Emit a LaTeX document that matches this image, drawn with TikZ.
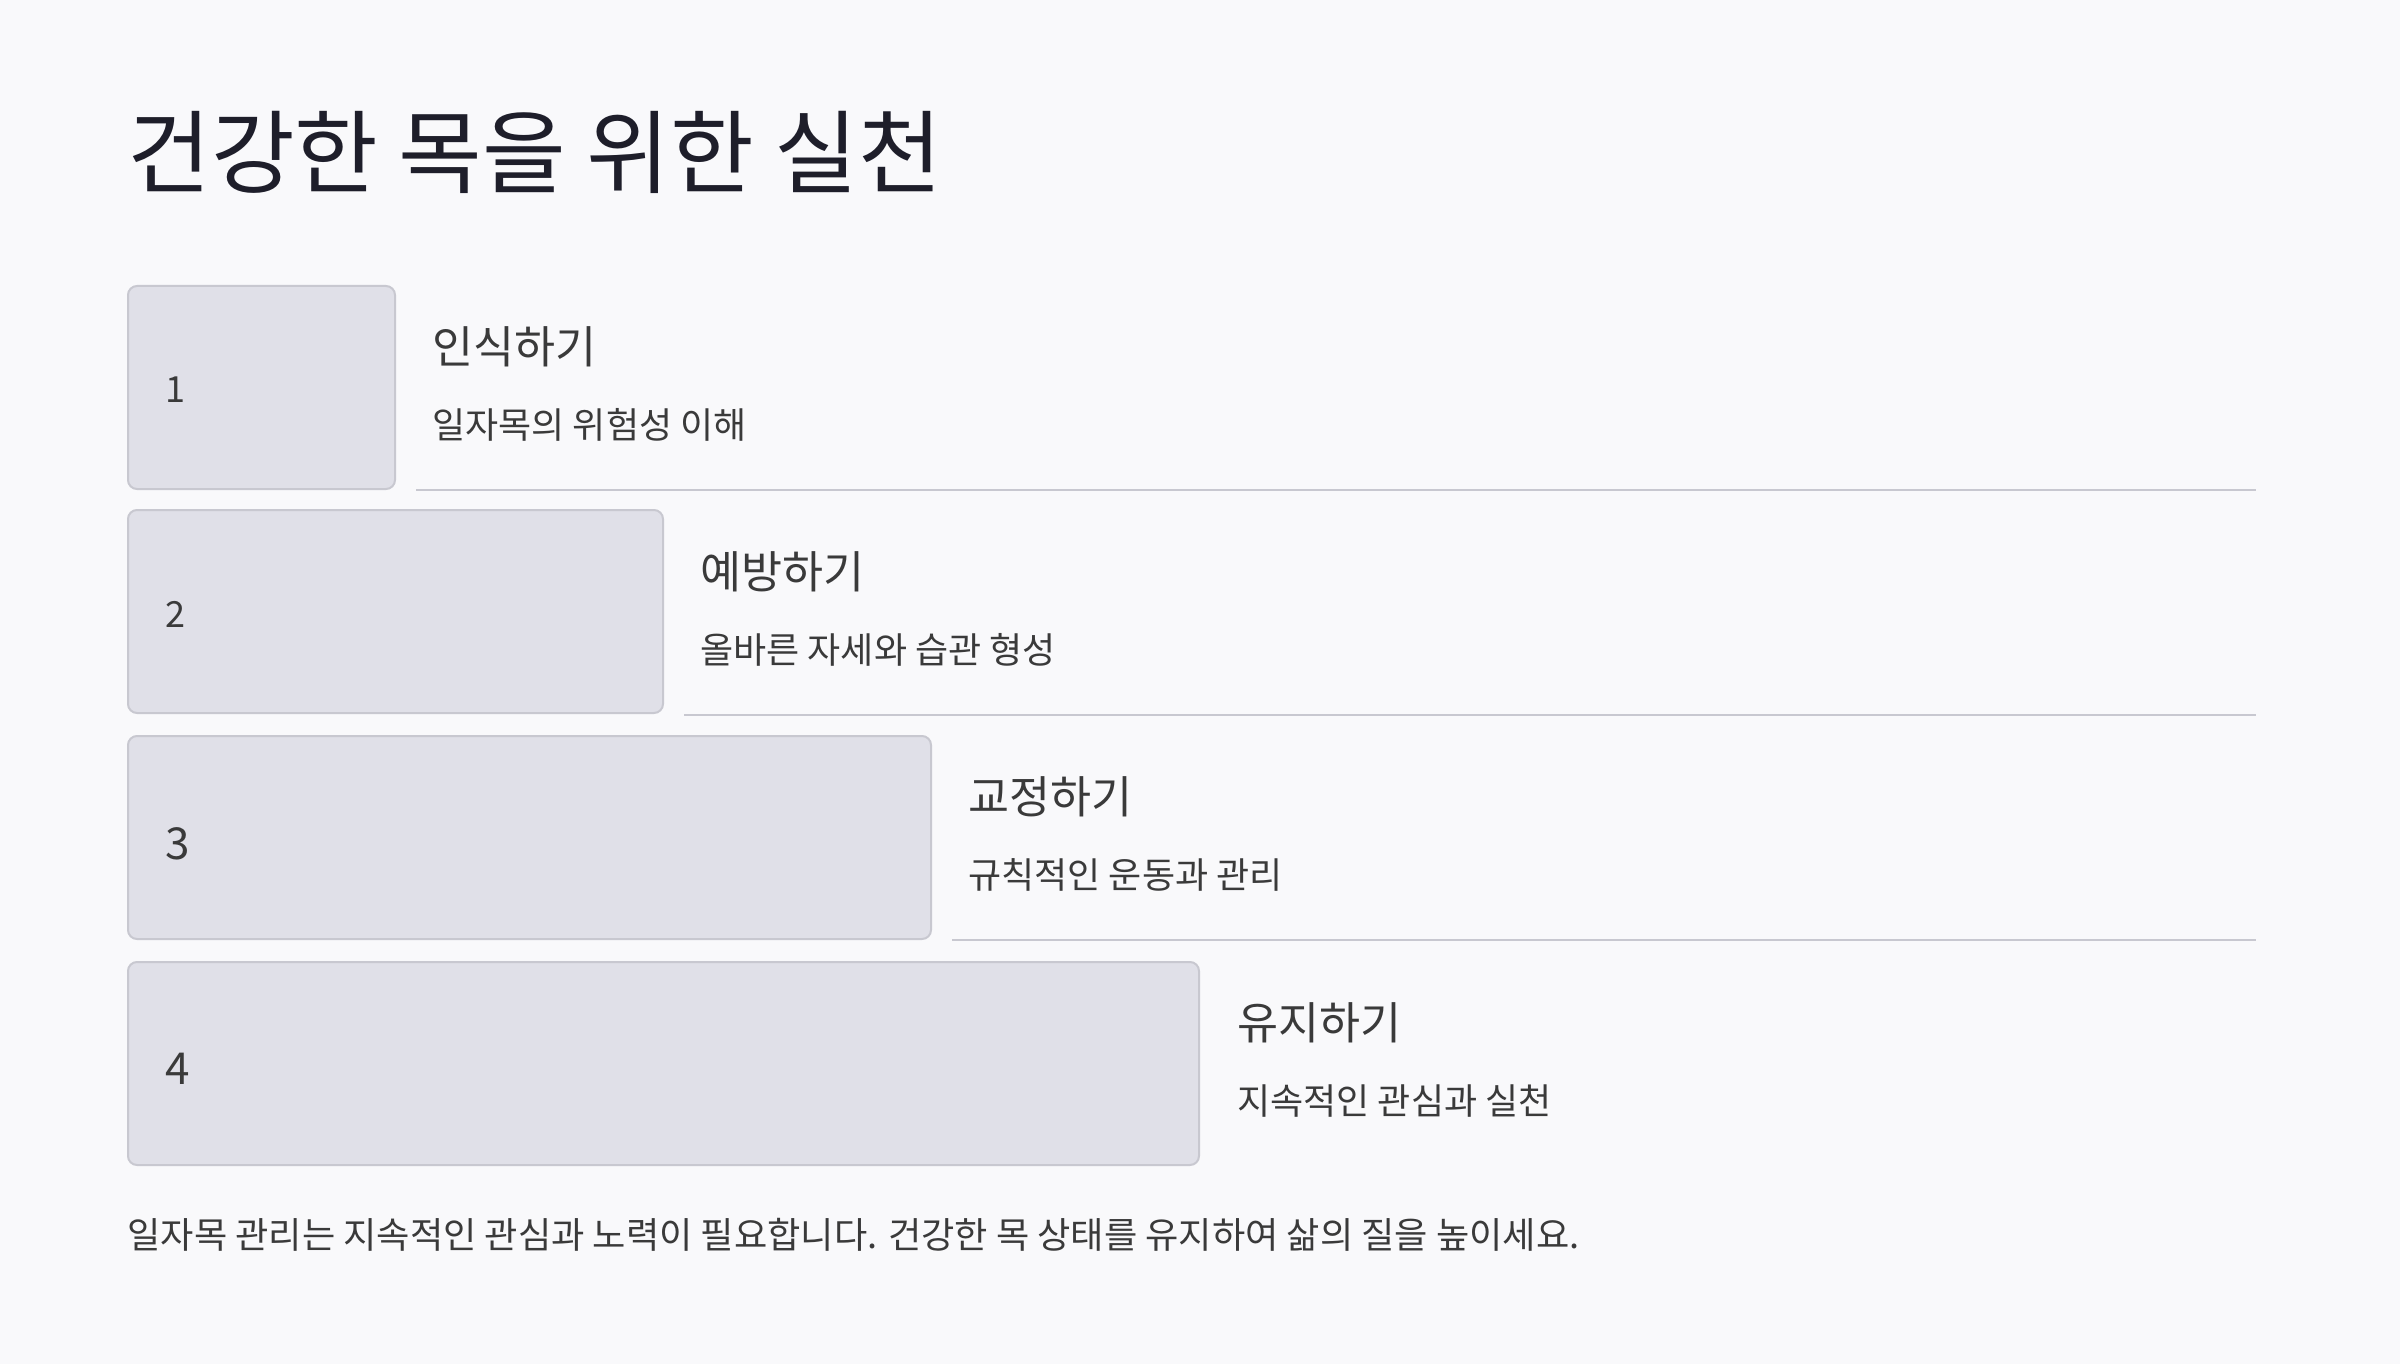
\documentclass[tikz,border=0pt]{standalone}
\usepackage{fontspec}
\setmainfont{Noto Sans CJK KR}
\definecolor{bgcol}{HTML}{F9F9FB}
\definecolor{boxfill}{HTML}{E0E0E8}
\definecolor{boxline}{HTML}{C8C8D0}
\definecolor{headcol}{HTML}{1E1E2A}
\definecolor{txtcol}{HTML}{3A3A3A}
\begin{document}
\begin{tikzpicture}[x=0.5pt,y=-0.5pt,
  stp/.style={draw=boxline,line width=1pt,fill=boxfill,rounded corners=4.5pt,rectangle,inner sep=0pt,anchor=north west,minimum height=101.5pt},
  num/.style={anchor=west,inner sep=0pt,text=txtcol},
  ttl/.style={anchor=west,inner sep=0pt,text=txtcol,font=\fontsize{22.3}{26}\selectfont},
  sub/.style={anchor=west,inner sep=0pt,text=txtcol,font=\fontsize{18}{22}\selectfont},
  sep/.style={draw=boxline,line width=1pt}]
\fill[bgcol] (0,0) rectangle (2400,1364);
\node[anchor=west,inner sep=0pt,text=headcol,font=\fontsize{45.5}{52}\selectfont] (T) at (127,152) {건강한 목을 위한 실천};
% stappen
\node[stp,minimum width=133.5pt] (B1) at (127,285) {};
\node[stp,minimum width=267.5pt] (B2) at (127,509) {};
\node[stp,minimum width=401.5pt] (B3) at (127,735) {};
\node[stp,minimum width=535.5pt] (B4) at (127,961) {};
\node[num,font=\fontsize{18}{21}\selectfont] (N1) at (165,390) {1};
\node[num,font=\fontsize{18}{21}\selectfont] (N2) at (165,614) {2};
\node[num,font=\fontsize{22}{26}\selectfont] (N3) at (165,844) {3};
\node[num,font=\fontsize{22}{26}\selectfont] (N4) at (165,1069) {4};
\node[ttl] (H1) at (432,347) {인식하기};
\node[sub] (S1) at (432,425) {일자목의 위험성 이해};
\node[ttl] (H2) at (700,571.5) {예방하기};
\node[sub] (S2) at (700,649.5) {올바른 자세와 습관 형성};
\node[ttl] (H3) at (968,797) {교정하기};
\node[sub] (S3) at (968,875) {규칙적인 운동과 관리};
\node[ttl] (H4) at (1237,1023) {유지하기};
\node[sub] (S4) at (1237,1101) {지속적인 관심과 실천};
% scheidingslijnen
\coordinate (E1) at (2256,490);
\coordinate (E2) at (2256,715);
\coordinate (E3) at (2256,940);
\draw[sep] ([xshift=10pt]E1 -| B1.east) -- (E1);
\draw[sep] ([xshift=10pt]E2 -| B2.east) -- (E2);
\draw[sep] ([xshift=10pt]E3 -| B3.east) -- (E3);
\node[anchor=west,inner sep=0pt,text=txtcol,font=\fontsize{18.1}{21}\selectfont] (F) at (127,1235) {일자목 관리는 지속적인 관심과 노력이 필요합니다. 건강한 목 상태를 유지하여 삶의 질을 높이세요.};
\end{tikzpicture}
\end{document}
